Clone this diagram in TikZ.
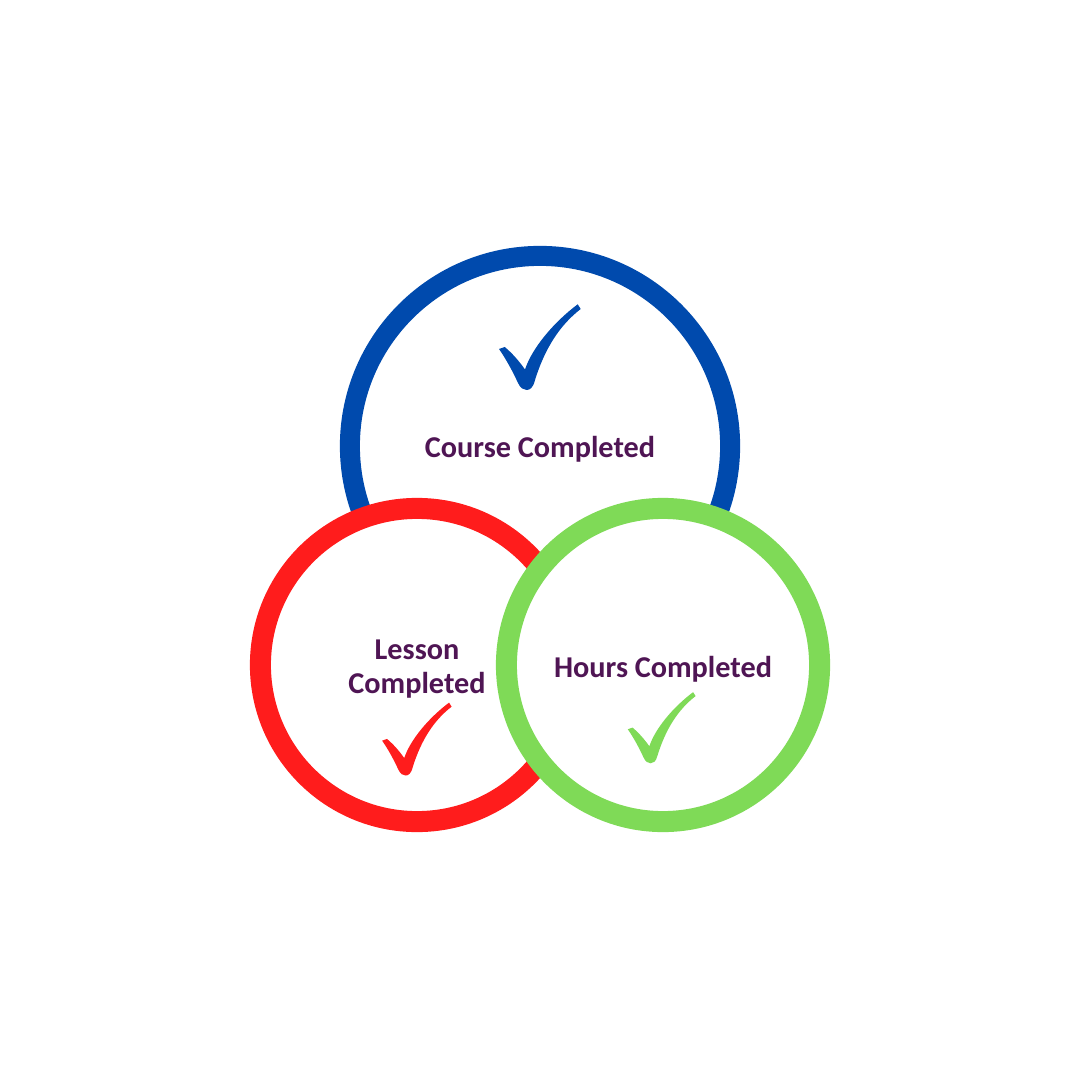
\documentclass[tikz,border=0pt]{standalone}
\usepackage{fontspec}
\setmainfont{Carlito}
\definecolor{courseblue}{HTML}{004AAD}
\definecolor{lessonred}{HTML}{FF1C1C}
\definecolor{hoursgreen}{HTML}{7FDA57}
\definecolor{labelpurple}{HTML}{4F1554}
\tikzset{
  ring/.style={circle,draw=#1,fill=white,inner sep=0pt},
  ringlabel/.style={align=center,inner sep=0pt,text=labelpurple,
    font=\fontsize{8.6}{9.9}\selectfont\bfseries},
  check/.pic={
    \fill (19,-69) -- (24.7,-67) .. controls (32,-73) and (39,-81) .. (45,-89.5)
      .. controls (52,-68) and (74,-42) .. (97.7,-24.3) -- (100.7,-29)
      .. controls (80,-45) and (65,-68) .. (55,-100)
      .. controls (53,-108) and (50,-110) .. (46.5,-110)
      .. controls (43,-110) and (40.5,-108) .. (38,-103)
      .. controls (33,-92) and (26,-79) .. (19,-69) -- cycle;
  }
}
\begin{document}
\begin{tikzpicture}[x=0.01cm,y=-0.01cm]
  \useasboundingbox (0,0) rectangle (1080,1080);

  \node[ring=courseblue,line width=0.2cm,minimum size=3.8cm] (course) at (540,446) {};
  \node[ring=lessonred,line width=0.21cm,minimum size=3.13cm] (lesson) at (417,665) {};
  \node[ring=hoursgreen,line width=0.21cm,minimum size=3.13cm] (hours) at (663,665) {};

  \node[ringlabel] (coursetext) at (540,449) {Course Completed};
  \node[ringlabel] (lessontext) at (417,669) {Lesson\\Completed};
  \node[ringlabel] (hourstext) at (663,669) {Hours Completed};

  \pic[courseblue,yscale=-1] at (480,280) {check};
  \pic[lessonred,yscale=-.85,xscale=.85] at (366,682) {check};
  \pic[hoursgreen,yscale=-.83,xscale=.83] at (612,672) {check};

\end{tikzpicture}
\end{document}
